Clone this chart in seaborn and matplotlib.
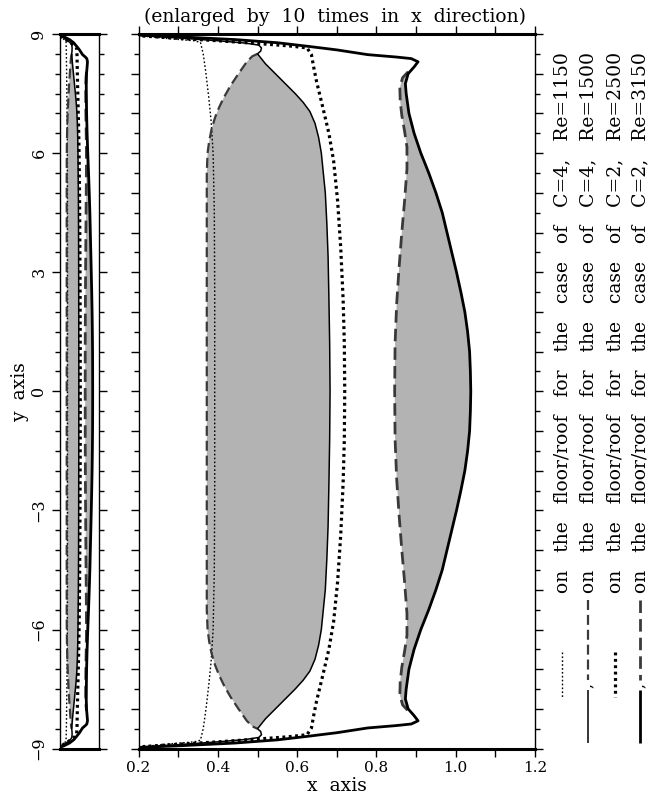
import numpy as np
import matplotlib
matplotlib.use("Agg")
import matplotlib.pyplot as plt
import seaborn as sns
from matplotlib.lines import Line2D
from matplotlib.ticker import MultipleLocator

# ---------------- data ----------------
# thin dotted : C=4, Re=1150
A_x = [0.21, 0.28, 0.34, 0.356, 0.363, 0.370, 0.377, 0.383, 0.388, 0.391, 0.392, 0.392, 0.392, 0.391, 0.388, 0.383, 0.377, 0.370, 0.363, 0.356, 0.34, 0.28, 0.21]
A_y = [8.95, 8.88, 8.83, 8.79, 8.50, 8.00, 7.40, 6.80, 6.00, 4.50, 2.50, 0.00, -2.50, -4.50, -6.00, -6.80, -7.40, -8.00, -8.50, -8.79, -8.83, -8.88, -8.95]

# thin dashed : C=4, Re=1500 (left edge of first shaded zone)
B_x = [0.500, 0.487, 0.473, 0.452, 0.432, 0.415, 0.403, 0.393, 0.384, 0.378, 0.374, 0.372, 0.372, 0.372, 0.372, 0.372,
       0.374, 0.378, 0.384, 0.393, 0.403, 0.415, 0.432, 0.452, 0.473, 0.487, 0.500]
B_y = [8.50, 8.44, 8.30, 8.00, 7.70, 7.40, 7.15, 6.90, 6.60, 6.30, 6.00, 5.50, 4.00, 0.00, -4.00, -5.50,
       -6.00, -6.30, -6.60, -6.90, -7.15, -7.40, -7.70, -8.00, -8.30, -8.44, -8.50]

# thin solid : C=4, Re=1500
C_x = [0.21, 0.30, 0.40, 0.47, 0.503, 0.510, 0.508, 0.500, 0.520, 0.545, 0.570, 0.595, 0.615, 0.632, 0.645, 0.654, 0.661, 0.666, 0.671, 0.675, 0.678, 0.680, 0.682, 0.683,
       0.682, 0.680, 0.678, 0.675, 0.671, 0.666, 0.661, 0.654, 0.645, 0.632, 0.615, 0.595, 0.570, 0.545, 0.520, 0.500, 0.508, 0.510, 0.503, 0.47, 0.40, 0.30, 0.21]
C_y = [8.96, 8.90, 8.83, 8.77, 8.72, 8.65, 8.57, 8.50, 8.25, 8.00, 7.75, 7.50, 7.28, 7.05, 6.75, 6.40, 6.00, 5.50, 5.00, 4.20, 3.40, 2.40, 1.20, 0.00,
       -1.20, -2.40, -3.40, -4.20, -5.00, -5.50, -6.00, -6.40, -6.75, -7.05, -7.28, -7.50, -7.75, -8.00, -8.25, -8.50, -8.57, -8.65, -8.72, -8.77, -8.83, -8.90, -8.96]

# thick dotted : C=2, Re=2500
D_x = [0.21, 0.30, 0.40, 0.50, 0.58, 0.625, 0.636, 0.642, 0.649, 0.665, 0.680, 0.692, 0.702, 0.710, 0.716, 0.719, 0.720,
       0.719, 0.716, 0.710, 0.702, 0.692, 0.680, 0.665, 0.649, 0.642, 0.636, 0.625, 0.58, 0.50, 0.40, 0.30, 0.21]
D_y = [8.95, 8.89, 8.83, 8.76, 8.70, 8.65, 8.48, 8.15, 7.80, 7.14, 6.50, 5.80, 4.80, 3.60, 2.30, 1.20, 0.00,
       -1.20, -2.30, -3.60, -4.80, -5.80, -6.50, -7.14, -7.80, -8.15, -8.48, -8.65, -8.70, -8.76, -8.83, -8.89, -8.95]

# thick dashed : C=2, Re=3150 (left edge of second shaded zone)
E_x = [0.880, 0.866, 0.859, 0.860, 0.864, 0.871, 0.877, 0.877, 0.871, 0.864, 0.857, 0.851, 0.847, 0.846,
       0.847, 0.851, 0.857, 0.864, 0.871, 0.877, 0.877, 0.871, 0.864, 0.860, 0.859, 0.866, 0.880]
E_y = [8.05, 7.90, 7.65, 7.30, 6.95, 6.55, 6.15, 5.60, 4.80, 4.00, 3.10, 2.20, 1.20, 0.00,
       -1.20, -2.20, -3.10, -4.00, -4.80, -5.60, -6.15, -6.55, -6.95, -7.30, -7.65, -7.90, -8.05]

# thick solid : C=2, Re=3150
F_x = [0.20, 0.30, 0.443, 0.55, 0.627, 0.70, 0.778, 0.850, 0.888, 0.905, 0.895, 0.880, 0.873, 0.875, 0.882, 0.895, 0.912, 0.932, 0.950, 0.966, 0.978, 0.990, 1.002, 1.013, 1.023, 1.030, 1.035, 1.037, 1.038,
       1.037, 1.035, 1.030, 1.023, 1.013, 1.002, 0.990, 0.978, 0.966, 0.950, 0.932, 0.912, 0.895, 0.882, 0.875, 0.873, 0.880, 0.895, 0.905, 0.888, 0.850, 0.778, 0.70, 0.627, 0.55, 0.443, 0.30, 0.20]
F_y = [8.97, 8.93, 8.86, 8.78, 8.69, 8.60, 8.48, 8.42, 8.38, 8.30, 8.17, 8.00, 7.75, 7.50, 7.00, 6.50, 6.00, 5.50, 5.00, 4.50, 4.00, 3.50, 3.00, 2.50, 2.00, 1.50, 1.00, 0.50, 0.00,
       -0.50, -1.00, -1.50, -2.00, -2.50, -3.00, -3.50, -4.00, -4.50, -5.00, -5.50, -6.00, -6.50, -7.00, -7.50, -7.75, -8.00, -8.17, -8.30, -8.38, -8.42, -8.48, -8.60, -8.69, -8.78, -8.86, -8.93, -8.97]

x_ticks = [0.2, 0.3, 0.4, 0.5, 0.6, 0.7, 0.8, 0.9, 1.0, 1.1, 1.2]
x_tick_labels = ["0.2", "", "0.4", "", "0.6", "", "0.8", "", "1.0", "", "1.2"]
y_ticks = [9, 6, 3, 0, -3, -6, -9]
y_tick_labels = ["9", "6", "3", "0", "\u22123", "\u22126", "\u22129"]

legend_labels = [
    "on   the   floor/roof   for   the   case   of   C=4,   Re=1150",
    "on   the   floor/roof   for   the   case   of   C=4,   Re=1500",
    "on   the   floor/roof   for   the   case   of   C=2,   Re=2500",
    "on   the   floor/roof   for   the   case   of   C=2,   Re=3150",
]

# ---------------- style ----------------
sns.set_theme(style="ticks")
plt.rcParams['font.family'] = ['DejaVu Serif']
plt.rcParams['axes.edgecolor'] = 'black'
plt.rcParams['xtick.color'] = 'black'
plt.rcParams['ytick.color'] = 'black'
plt.rcParams['text.color'] = 'black'
plt.rcParams['axes.labelcolor'] = 'black'

FILL = '#b3b3b3'
DASH_C = '#3a3a3a'

thin_dot = dict(color='black', lw=1.0, linestyle=(0, (1.2, 1.6)))
thin_dash = dict(color=DASH_C, lw=1.6, linestyle=(0, (4.5, 2.2)))
thin_solid = dict(color='black', lw=1.1, linestyle='-')
thick_dot = dict(color='black', lw=2.3, linestyle=(0, (0.9, 1.1)))
thick_dash = dict(color=DASH_C, lw=2.0, linestyle=(0, (4.5, 2.2)))
thick_solid = dict(color='black', lw=2.0, linestyle='-')

fig = plt.figure(figsize=(6.5, 7.98), dpi=100)
fig.patch.set_facecolor('white')

W, H = 650.0, 798.0
bottom = 1 - 748.6 / H
height = (748.6 - 34) / H
ax = fig.add_axes([138.6 / W, bottom, (535 - 138.6) / W, height])
axl = fig.add_axes([60 / W, bottom, 39 / W, height])


def curve(a, xs, ys, style, z=3):
    sns.lineplot(x=xs, y=ys, sort=False, estimator=None, ax=a, legend=False,
                 zorder=z, solid_capstyle='butt', **style)


# shaded zones: between dashed and solid edges, from tip to tip
c_in = [i for i, v in enumerate(C_y) if abs(v) <= 8.5 and C_x[i] >= 0.5 and 7 <= i <= len(C_y) - 8]
f_in = [i for i, v in enumerate(F_y) if abs(v) <= 8.0 and 11 <= i <= len(F_y) - 12]

for a in (ax, axl):
    a.set_facecolor('white')
    zone1_x = list(B_x) + [C_x[i] for i in c_in][::-1]
    zone1_y = list(B_y) + [C_y[i] for i in c_in][::-1]
    a.fill(zone1_x, zone1_y, color=FILL, lw=0, zorder=1)
    zone2_x = list(E_x) + [F_x[i] for i in f_in][::-1]
    zone2_y = list(E_y) + [F_y[i] for i in f_in][::-1]
    a.fill(zone2_x, zone2_y, color=FILL, lw=0, zorder=1)
    curve(a, A_x, A_y, thin_dot)
    curve(a, B_x, B_y, thin_dash)
    curve(a, C_x, C_y, thin_solid)
    curve(a, D_x, D_y, thick_dot)
    curve(a, E_x, E_y, thick_dash)
    curve(a, F_x, F_y, thick_solid)
    a.set_xlim(0.2, 1.2)
    a.set_ylim(-9, 9)
    a.set_xlabel('')
    a.set_ylabel('')
    for s in ('top', 'bottom'):
        a.spines[s].set_linewidth(2.2)
    for s in ('left', 'right'):
        a.spines[s].set_linewidth(1.0)
    a.yaxis.set_minor_locator(MultipleLocator(0.5))
    a.yaxis.set_major_locator(MultipleLocator(1.0))
    a.tick_params(axis='y', which='major', direction='out', length=6, width=1.0,
                  left=True, right=True, labelleft=False, labelright=False)
    a.tick_params(axis='y', which='minor', direction='out', length=3.5, width=1.0,
                  left=True, right=True)

# main panel x ticks
ax.set_xticks(x_ticks)
ax.set_xticklabels(x_tick_labels, fontsize=11)
ax.tick_params(axis='x', which='major', direction='out', length=6, width=1.0,
               top=True, bottom=True, labeltop=False, pad=3)

# left panel
axl.set_xticks([])
axl.set_yticks(y_ticks, minor=False)
axl.yaxis.set_minor_locator(MultipleLocator(0.5))
axl.set_yticklabels(y_tick_labels, rotation=90, va='center', fontsize=11.5)
axl.tick_params(axis='y', which='major', labelleft=True, pad=3)

# titles and axis labels
fig.text(335 / W, 1 - 17 / H, "(enlarged  by  10  times  in  x  direction)", ha='center', va='center', fontsize=13.5)
fig.text(337 / W, 1 - 786 / H, "x  axis", ha='center', va='center', fontsize=13.5)
fig.text(20 / W, 1 - 392 / H, "y  axis", ha='center', va='center', rotation=90, fontsize=13.5)

# custom vertical legend
col_x = [562, 588, 615, 640]
samples = [
    [(thin_dot, 652, 697)],
    [(thin_solid, 690, 743), (thin_dash, 600, 680)],
    [(thick_dot, 652, 697)],
    [(thick_solid, 690, 743), (thick_dash, 600, 680)],
]
for cx, lab, parts in zip(col_x, legend_labels, samples):
    for st, y0, y1 in parts:
        fig.add_artist(Line2D([cx / W, cx / W], [1 - y0 / H, 1 - y1 / H], transform=fig.transFigure,
                              color=st['color'], lw=st['lw'], linestyle=st['linestyle'], solid_capstyle='butt'))
    if len(parts) == 2:
        fig.text(cx / W, 1 - 686 / H, ",", rotation=90, ha='center', va='center', fontsize=11)
    fig.text(cx / W, 1 - 593 / H, lab, rotation=90, ha='center', va='bottom', fontsize=13.5)

fig.savefig("out.png", dpi=100, facecolor='white')
